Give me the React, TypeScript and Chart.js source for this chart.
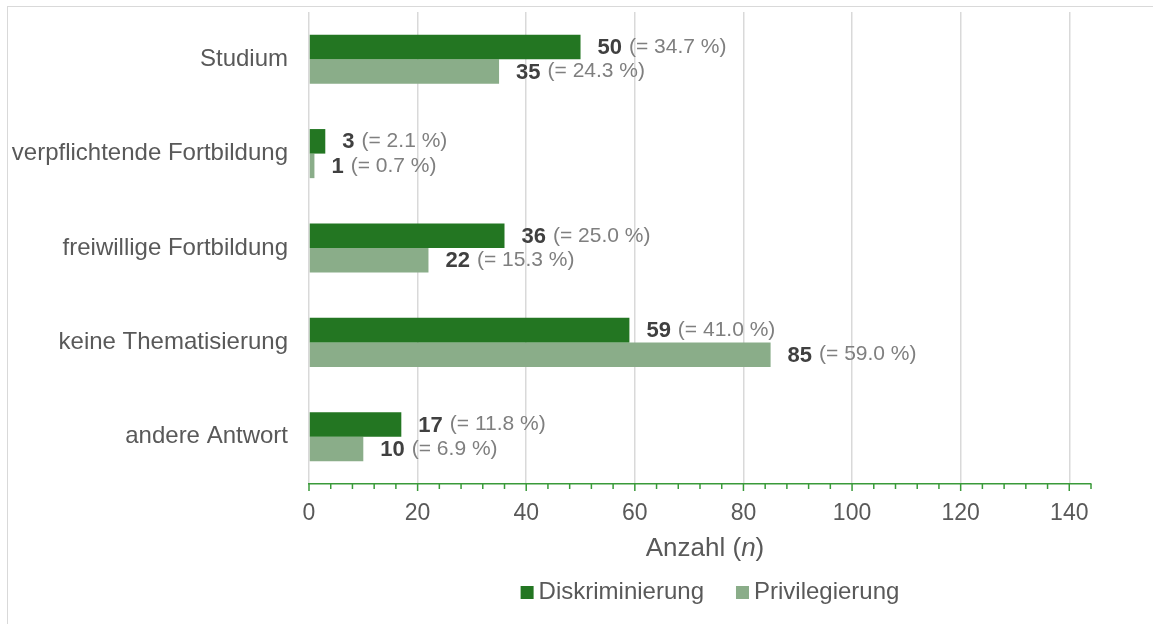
import React, { useEffect, useRef } from "react";
import { Chart, registerables } from "chart.js";

Chart.register(...registerables);

const categories = [
  "Studium",
  "verpflichtende Fortbildung",
  "freiwillige Fortbildung",
  "keine Thematisierung",
  "andere Antwort",
];
const seriesNames = ["Diskriminierung", "Privilegierung"];
const diskriminierung = [50, 3, 36, 59, 17];
const privilegierung = [35, 1, 22, 85, 10];
const diskriminierungPct = ["34.7", "2.1", "25.0", "41.0", "11.8"];
const privilegierungPct = ["24.3", "0.7", "15.3", "59.0", "6.9"];
const xMin = 0;
const xMax = 144;
const xMajorStep = 20;
const xMinorStep = 4;
const axisTitleMain = "Anzahl (";
const axisTitleItalic = "n";
const axisTitleEnd = ")";

const DARK = "#237622";
const LIGHT = "#8aad89";
const AXIS_GREEN = "#3a9a3a";
const GRID = "#d9d9d9";
const TEXT = "#595959";
const VALUE_TEXT = "#404040";
const PCT_TEXT = "#7f7f7f";
const FONT = "'Liberation Sans', Arial, Helvetica, sans-serif";

const pctSets = [diskriminierungPct, privilegierungPct];

const decorPlugin = {
  id: "decor",
  afterDatasetsDraw(chart: any) {
    const ctx = chart.ctx as CanvasRenderingContext2D;
    ctx.save();
    chart.data.datasets.forEach((ds: any, di: number) => {
      const meta = chart.getDatasetMeta(di);
      meta.data.forEach((el: any, i: number) => {
        const v = ds.data[i];
        const x0 = el.x + 17;
        const y = el.y + 1;
        ctx.textBaseline = "middle";
        ctx.textAlign = "left";
        ctx.font = `bold 22px ${FONT}`;
        ctx.fillStyle = VALUE_TEXT;
        const vs = String(v);
        ctx.fillText(vs, x0, y);
        const w = ctx.measureText(vs).width;
        ctx.font = `21px ${FONT}`;
        ctx.fillStyle = PCT_TEXT;
        ctx.fillText(`(= ${pctSets[di][i]} %)`, x0 + w + 7, y - 1);
      });
    });
    ctx.restore();
  },
  afterDraw(chart: any) {
    const ctx = chart.ctx as CanvasRenderingContext2D;
    const xs = chart.scales.x;
    const area = chart.chartArea;
    ctx.save();
    // axis ticks (major + minor)
    ctx.strokeStyle = AXIS_GREEN;
    ctx.lineWidth = 1.5;
    for (let v = xMin; v <= xMax; v += xMinorStep) {
      const px = xs.getPixelForValue(v);
      const major = v % xMajorStep === 0;
      ctx.beginPath();
      ctx.moveTo(px, area.bottom);
      ctx.lineTo(px, area.bottom + (major ? 7 : 5));
      ctx.stroke();
    }
    // axis title with italic n
    const cx = (area.left + area.right) / 2 + 5;
    const ty = 549;
    ctx.textBaseline = "middle";
    ctx.textAlign = "left";
    ctx.fillStyle = TEXT;
    const fN = `26px ${FONT}`;
    const fI = `italic 26px ${FONT}`;
    ctx.font = fN;
    const w1 = ctx.measureText(axisTitleMain).width;
    const w3 = ctx.measureText(axisTitleEnd).width;
    ctx.font = fI;
    const w2 = ctx.measureText(axisTitleItalic).width;
    let tx = cx - (w1 + w2 + w3) / 2;
    ctx.font = fN;
    ctx.fillText(axisTitleMain, tx, ty);
    tx += w1;
    ctx.font = fI;
    ctx.fillText(axisTitleItalic, tx, ty);
    tx += w2;
    ctx.font = fN;
    ctx.fillText(axisTitleEnd, tx, ty);

    // legend
    const box = 13;
    const gapBoxText = 5;
    const gapItems = 32;
    ctx.font = `24px ${FONT}`;
    const items = chart.data.datasets.map((d: any) => ({
      label: d.label,
      color: d.backgroundColor,
      w: ctx.measureText(d.label).width,
    }));
    const total =
      items.reduce((s: number, it: any) => s + box + gapBoxText + it.w, 0) +
      gapItems * (items.length - 1);
    let lx = cx + 5 - total / 2;
    const ly = 592.5;
    items.forEach((it: any) => {
      ctx.fillStyle = it.color;
      ctx.fillRect(lx, ly - box / 2, box, box);
      lx += box + gapBoxText;
      ctx.fillStyle = TEXT;
      ctx.fillText(it.label, lx, ly);
      lx += it.w + gapItems;
    });
    ctx.restore();
  },
};

export default function App() {
  const ref = useRef<HTMLCanvasElement | null>(null);
  useEffect(() => {
    if (!ref.current) return;
    const chart = new Chart(ref.current, {
      type: "bar",
      data: {
        labels: categories,
        datasets: [
          {
            label: seriesNames[0],
            data: diskriminierung,
            backgroundColor: DARK,
            borderWidth: 0,
          },
          {
            label: seriesNames[1],
            data: privilegierung,
            backgroundColor: LIGHT,
            borderWidth: 0,
          },
        ],
      },
      options: {
        indexAxis: "y",
        animation: false,
        responsive: false,
        devicePixelRatio: 1,
        layout: { padding: { left: 0, right: 62, top: 12, bottom: 100 } },
        datasets: { bar: { categoryPercentage: 0.52, barPercentage: 1 } } as any,
        plugins: {
          legend: { display: false },
          tooltip: { enabled: false },
        },
        scales: {
          x: {
            type: "linear",
            min: xMin,
            max: xMax,
            ticks: {
              stepSize: xMajorStep,
              includeBounds: false,
              font: { family: FONT, size: 23 },
              color: TEXT,
              padding: 16,
            } as any,
            grid: { color: GRID, lineWidth: 1.5, drawTicks: false },
            border: { display: true, color: AXIS_GREEN, width: 1.5 },
            afterFit: (s: any) => {
              s.height = 40;
              s.paddingLeft = 0;
              s.paddingRight = 0;
            },
          },
          y: {
            ticks: {
              font: { family: FONT, size: 24 },
              color: TEXT,
              padding: 21,
            },
            grid: { display: false, drawTicks: false },
            border: { display: false },
            afterFit: (s: any) => {
              s.width = 309;
              s.paddingTop = 0;
              s.paddingBottom = 0;
            },
          },
        },
      },
      plugins: [decorPlugin],
    });
    return () => chart.destroy();
  }, []);

  return (
    <div>
      <div
        style={{
          position: "fixed",
          left: 7,
          top: 6,
          right: 0,
          bottom: 0,
          borderLeft: `1.5px solid ${GRID}`,
          borderTop: `1.5px solid ${GRID}`,
          background: "#ffffff",
        }}
      />
      <canvas
        ref={ref}
        width={1153}
        height={624}
        style={{ position: "fixed", left: 0, top: 0, width: 1153, height: 624 }}
      />
    </div>
  );
}
